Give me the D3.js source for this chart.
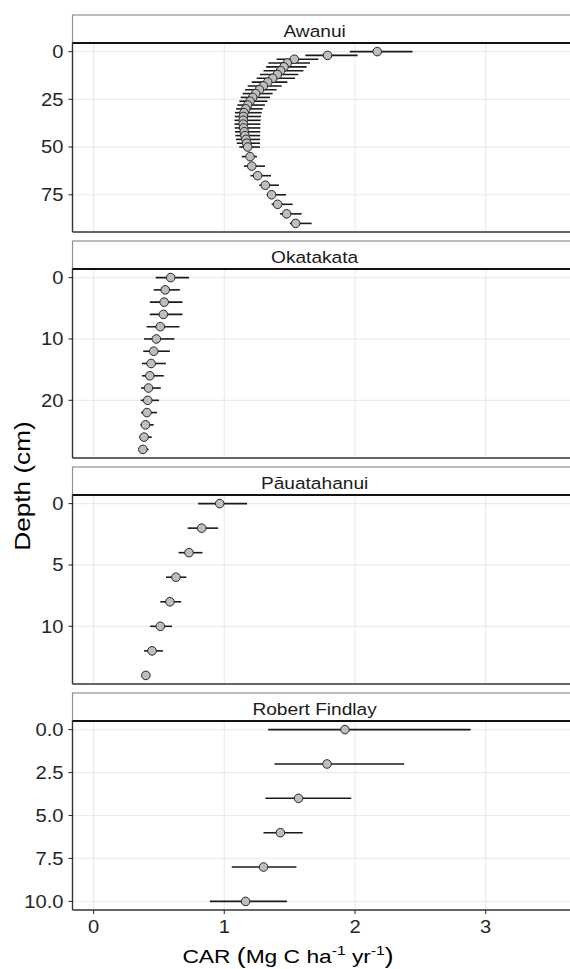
<!DOCTYPE html>
<html>
<head>
<meta charset="utf-8">
<script src="https://cdn.jsdelivr.net/npm/d3@7"></script>
<style>
  body { margin: 0; background: #fff; }
  svg { display: block; font-family: "Liberation Sans", Arial, sans-serif; }
</style>
</head>
<body>
<div id="chart"></div>
<script>
// data: depth (cm), CAR and its lower / upper bound
var sites = ["Awanui", "Okatakata", "Pāuatahanui", "Robert Findlay"];

var awanuiDepth = [0, 2, 4, 6, 8, 10, 12, 14, 16, 18, 20, 22, 24, 26, 28, 30, 32, 34, 36, 38, 40, 42, 44, 46, 48, 50, 55, 60, 65, 70, 75, 80, 85, 90];
var awanuiCar = [2.17, 1.79, 1.536, 1.482, 1.457, 1.431, 1.406, 1.37, 1.332, 1.299, 1.268, 1.24, 1.217, 1.197, 1.179, 1.164, 1.151, 1.146, 1.145, 1.145, 1.148, 1.153, 1.158, 1.166, 1.171, 1.179, 1.197, 1.21, 1.255, 1.314, 1.362, 1.408, 1.477, 1.546];
var awanuiLo = [1.96, 1.62, 1.40, 1.337, 1.32, 1.30, 1.273, 1.248, 1.21, 1.179, 1.158, 1.14, 1.125, 1.115, 1.10, 1.09, 1.082, 1.08, 1.078, 1.078, 1.08, 1.082, 1.085, 1.09, 1.095, 1.115, 1.133, 1.15, 1.20, 1.268, 1.324, 1.362, 1.426, 1.502];
var awanuiHi = [2.44, 2.02, 1.72, 1.656, 1.63, 1.605, 1.566, 1.541, 1.482, 1.439, 1.40, 1.37, 1.35, 1.33, 1.311, 1.294, 1.286, 1.28, 1.278, 1.276, 1.276, 1.275, 1.274, 1.274, 1.273, 1.273, 1.25, 1.311, 1.357, 1.418, 1.472, 1.523, 1.592, 1.668];

var okatakataDepth = [0, 2, 4, 6, 8, 10, 12, 14, 16, 18, 20, 22, 24, 26, 28];
var okatakataCar = [0.59, 0.548, 0.54, 0.534, 0.51, 0.48, 0.46, 0.44, 0.43, 0.42, 0.414, 0.408, 0.397, 0.386, 0.377];
var okatakataLo = [0.475, 0.46, 0.43, 0.43, 0.405, 0.386, 0.38, 0.37, 0.37, 0.363, 0.36, 0.363, 0.358, 0.35, 0.35];
var okatakataHi = [0.73, 0.66, 0.68, 0.68, 0.657, 0.618, 0.584, 0.553, 0.537, 0.514, 0.50, 0.486, 0.46, 0.445, 0.42];

var pauaDepth = [0, 2, 4, 6, 8, 10, 12, 14];
var pauaCar = [0.965, 0.827, 0.73, 0.63, 0.584, 0.51, 0.447, 0.40];
var pauaLo = [0.80, 0.72, 0.65, 0.554, 0.51, 0.433, 0.386, 0.39];
var pauaHi = [1.174, 0.953, 0.833, 0.71, 0.67, 0.60, 0.53, 0.41];

var rfDepth = [0, 2, 4, 6, 8, 10];
var rfCar = [1.923, 1.786, 1.568, 1.429, 1.30, 1.163];
var rfLo = [1.336, 1.384, 1.314, 1.30, 1.057, 0.89];
var rfHi = [2.885, 2.376, 1.971, 1.60, 1.552, 1.479];

var yTicks = [[0, 25, 50, 75], [0, 10, 20], [0, 5, 10], [0, 2.5, 5, 7.5, 10]];
var yFormats = ["d", "d", "d", ".1f"];
var xTicks = [0, 1, 2, 3];

function rows(depth, car, lo, hi){
    return depth.map(function(d, i){ return {depth: d, car: car[i], lo: lo[i], hi: hi[i]}; });
}
var siteData = [
    rows(awanuiDepth, awanuiCar, awanuiLo, awanuiHi),
    rows(okatakataDepth, okatakataCar, okatakataLo, okatakataHi),
    rows(pauaDepth, pauaCar, pauaLo, pauaHi),
    rows(rfDepth, rfCar, rfLo, rfHi)
];

var width = 570, height = 969;
var left = 72.5, right = 600;
var stripH = 28, panelH = 189, gap = 9, firstTop = 15;

var svg = d3.select("#chart").append("svg")
    .attr("width", width)
    .attr("height", height);
svg.append("rect").attr("width", width).attr("height", height).attr("fill", "#fff");

var x = d3.scaleLinear().domain([0, 3]).range([93.6, 485.7]);

// text helper: glyphs in the figure are a bit wider than the font
function label(g, tx, ty, str, size, anchor, sx, rot){
    var t = g.append("g")
        .attr("transform", "translate(" + tx + "," + ty + ")" + (rot ? " rotate(" + rot + ")" : "") + " scale(" + sx + ",1)")
        .append("text")
        .attr("text-anchor", anchor)
        .attr("font-size", size + "px");
    if (str) t.text(str);
    return t;
}

siteData.forEach(function(data, k){
    var stripTop = firstTop + k * (stripH + panelH + gap);
    var pTop = stripTop + stripH, pBot = pTop + panelH;
    var maxD = d3.max(data, function(d){ return d.depth; });
    var y = d3.scaleLinear().domain([-0.05 * maxD, 1.05 * maxD]).range([pTop, pBot]);
    var g = svg.append("g");

    // strip
    g.append("rect")
        .attr("x", left).attr("y", stripTop)
        .attr("width", right - left).attr("height", stripH)
        .attr("fill", "#fff").attr("stroke", "#8f8f8f").attr("stroke-width", 1.2);
    label(g, 314.6, stripTop + 21.5, sites[k], 16.5, "middle", 1.16).attr("fill", "#1a1a1a");

    // grid
    g.selectAll(".gx").data(xTicks).enter().append("line")
        .attr("x1", function(d){ return x(d); }).attr("x2", function(d){ return x(d); })
        .attr("y1", pTop).attr("y2", pBot)
        .attr("stroke", "#ebebeb").attr("stroke-width", 1.2);
    g.selectAll(".gy").data(yTicks[k]).enter().append("line")
        .attr("x1", left).attr("x2", right)
        .attr("y1", function(d){ return y(d); }).attr("y2", function(d){ return y(d); })
        .attr("stroke", "#ebebeb").attr("stroke-width", 1.2);

    // error bars then points
    g.selectAll(".bar").data(data).enter().append("line")
        .attr("x1", function(d){ return x(d.lo); }).attr("x2", function(d){ return x(d.hi); })
        .attr("y1", function(d){ return y(d.depth); }).attr("y2", function(d){ return y(d.depth); })
        .attr("stroke", "#1a1a1a").attr("stroke-width", 1.6);
    g.selectAll(".pt").data(data).enter().append("circle")
        .attr("cx", function(d){ return x(d.car); })
        .attr("cy", function(d){ return y(d.depth); })
        .attr("r", 4.3)
        .attr("fill", "#bebebe").attr("stroke", "#262626").attr("stroke-width", 1);

    // panel border
    g.append("line").attr("x1", left).attr("x2", left).attr("y1", pTop).attr("y2", pBot)
        .attr("stroke", "#333").attr("stroke-width", 1.4);
    g.append("line").attr("x1", left).attr("x2", right).attr("y1", pBot).attr("y2", pBot)
        .attr("stroke", "#333").attr("stroke-width", 1.4);
    g.append("line").attr("x1", left).attr("x2", right).attr("y1", pTop).attr("y2", pTop)
        .attr("stroke", "#111").attr("stroke-width", 2.2);

    // y axis
    var fmt = d3.format(yFormats[k]);
    yTicks[k].forEach(function(t){
        g.append("line").attr("x1", left - 4).attr("x2", left)
            .attr("y1", y(t)).attr("y2", y(t))
            .attr("stroke", "#333").attr("stroke-width", 1.1);
        label(g, 63.5, y(t) + 6.4, fmt(t), 18, "end", 1.12).attr("fill", "#262626");
    });

    if (k === siteData.length - 1) {
        xTicks.forEach(function(t){
            g.append("line").attr("x1", x(t)).attr("x2", x(t))
                .attr("y1", pBot).attr("y2", pBot + 4)
                .attr("stroke", "#333").attr("stroke-width", 1.1);
            label(g, x(t), 933.3, String(t), 18, "middle", 1.12).attr("fill", "#262626");
        });
    }
});

// axis titles
var xt = label(svg, 288, 963, null, 19, "middle", 1.2, 0).attr("fill", "#000");
xt.append("tspan").text("CAR ");
xt.append("tspan").attr("font-size", "22px").text("(");
xt.append("tspan").text("Mg C ha");
xt.append("tspan").attr("font-size", "13px").attr("dy", -8).text("-1");
xt.append("tspan").attr("dy", 8).text(" yr");
xt.append("tspan").attr("font-size", "13px").attr("dy", -8).text("-1");
xt.append("tspan").attr("dy", 8).attr("font-size", "22px").text(")");

label(svg, 30, 486, "Depth (cm)", 22, "middle", 1.19, -90).attr("fill", "#000");
</script>
</body>
</html>
